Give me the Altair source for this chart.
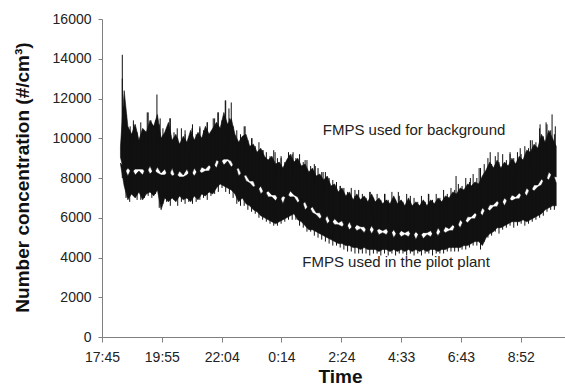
import altair as alt
import pandas as pd

# sampling grid (minutes after 17:45)
T0 = 40
STEP = 8

# FMPS used for background (upper band): high / low envelope
bg_hi = [9600, 12400, 10600, 10200, 10700, 9900, 10500, 10300, 10900, 10600,
         11200, 10000, 10300, 10800, 9900, 10200, 9700, 10100, 9800, 10400,
         9900, 10300, 10000, 10600, 10200, 10500, 10800, 10500, 11300, 10700,
         11000, 10200, 9800, 10100, 10200, 9600, 9700, 9300, 9500, 9100,
         8900, 9100, 8700, 8800, 8500, 8900, 9200, 8800, 9000, 8600,
         8700, 8300, 8500, 8100, 8200, 7900, 8100, 7600, 7700, 7300,
         7500, 7100, 7300, 6900, 7200, 6900, 7100, 6800, 7200, 6800,
         7000, 6700, 6900, 6700, 7100, 6700, 6900, 6600, 7000, 6600,
         6800, 6600, 6900, 6600, 6900, 6700, 7000, 6800, 7100, 7000,
         7300, 7200, 7500, 7400, 7700, 7600, 7800, 7700, 8100, 8400,
         8800, 8500, 8900, 8500, 8800, 8600, 9000, 8700, 9100, 8900,
         9400, 9300, 9700, 9500, 10200, 9800, 10400, 10000, 9600]
bg_lo = [9050, 8250, 8500, 8300, 8450, 8450, 8450, 8250, 8600, 8200,
         8550, 8250, 8450, 8050, 8500, 8000, 8350, 8150, 8450, 8050,
         8500, 8200, 8550, 8450, 8650, 8450, 8900, 8800, 8950, 8950,
         8850, 8450, 8500, 8100, 8150, 7850, 7850, 7350, 7600, 7200,
         7350, 7150, 7150, 6850, 7100, 7000, 7350, 7150, 7050, 6650,
         6800, 6400, 6550, 6250, 6250, 5850, 6100, 5700, 5950, 5750,
         5850, 5450, 5800, 5400, 5650, 5550, 5550, 5250, 5600, 5300,
         5450, 5350, 5450, 5150, 5400, 5100, 5350, 5250, 5350, 5050,
         5300, 5100, 5250, 5250, 5350, 5050, 5500, 5200, 5550, 5450,
         5650, 5450, 5900, 5700, 6050, 6050, 6250, 6050, 6500, 6300,
         6650, 6650, 6850, 6650, 7000, 6800, 7150, 7050, 7250, 7050,
         7500, 7300, 7650, 7650, 7950, 7750, 8300, 8100, 8050]

# FMPS used in the pilot plant (lower band): high / low envelope
pl_hi = [8750, 8550, 8100, 8500, 8150, 8350, 8150, 8550, 8200, 8400,
         8250, 8150, 8150, 8350, 8100, 8200, 8050, 8050, 8150, 8350,
         8100, 8400, 8250, 8350, 8350, 8750, 8500, 9000, 8650, 8850,
         8550, 8750, 8100, 8300, 7850, 7750, 7550, 7650, 7200, 7400,
         7050, 7050, 6850, 7150, 6700, 7200, 7050, 7050, 6750, 6950,
         6400, 6600, 6250, 6150, 5950, 6150, 5700, 5900, 5650, 5650,
         5550, 5750, 5400, 5600, 5350, 5450, 5250, 5550, 5200, 5500,
         5150, 5250, 5150, 5450, 5000, 5300, 5050, 5150, 5050, 5350,
         4900, 5300, 4950, 5150, 5050, 5350, 5100, 5400, 5250, 5350,
         5350, 5750, 5500, 5900, 5750, 5950, 5950, 6350, 6100, 6500,
         6350, 6550, 6550, 6950, 6600, 7000, 6850, 6950, 6950, 7350,
         7100, 7500, 7350, 7550, 7650, 8050, 7900, 8300, 7750]
pl_lo = [8700, 7600, 6900, 7200, 7000, 7300, 6900, 7200, 7300, 7100,
         7400, 6400, 7000, 6800, 7000, 6800, 7100, 6900, 7000, 6800,
         7100, 6900, 7200, 7100, 7300, 7200, 7500, 7700, 7600, 7500,
         7400, 7200, 6800, 7000, 6700, 6600, 6400, 6300, 6100, 6000,
         5900, 5800, 5700, 5800, 5900, 6000, 6100, 6200, 5900, 5800,
         5600, 5400, 5400, 5300, 5200, 5100, 5000, 4900, 4800, 4700,
         4700, 4600, 4600, 4500, 4500, 4400, 4500, 4400, 4400, 4400,
         4300, 4400, 4400, 4300, 4400, 4300, 4400, 4300, 4400, 4300,
         4400, 4300, 4400, 4300, 4400, 4400, 4300, 4400, 4400, 4500,
         4500, 4500, 4500, 4600, 4600, 4700, 4800, 4800, 4600, 5000,
         5200, 5300, 5500, 5500, 5600, 5700, 5800, 5800, 5800, 5900,
         5800, 5900, 6000, 6100, 6200, 6400, 6500, 6600, 6600]

# thin spikes between the samples: tops of the background trace, bottoms of the pilot trace
bg_peak = [13000, 11200, 10400, 10900, 10300, 10800, 10200, 11300, 10500, 10900,
           10700, 10500, 10100, 11000, 10300, 10000, 10500, 10200, 10000, 10700,
           10200, 10500, 10400, 10800, 10300, 11000, 11300, 10900, 11900, 11000,
           10600, 10400, 10200, 10600, 9900, 10000, 9600, 9800, 9400, 9300,
           9100, 9400, 9000, 9100, 8800, 9300, 9200, 9000, 9200, 8800,
           8900, 8600, 8700, 8500, 8300, 8300, 8000, 7900, 7800, 7600,
           7500, 7300, 7500, 7100, 7400, 7200, 7000, 7300, 7000, 7200,
           6900, 7200, 6900, 7300, 6900, 7100, 6800, 7200, 6800, 7000,
           6800, 7100, 6800, 7200, 6900, 7200, 7000, 7400, 7200, 7500,
           7400, 7700, 7600, 8000, 7800, 8200, 8000, 8500, 8700, 9000,
           8700, 9100, 8800, 9200, 8900, 9200, 9000, 9300, 9200, 9600,
           9500, 9900, 9800, 10500, 10100, 10700, 10400, 10200]
pl_dip = [8000, 7000, 6800, 7100, 6900, 6900, 7000, 7100, 7000, 7200,
          6500, 6700, 6800, 6600, 6900, 6600, 6800, 6700, 6800, 6700,
          6800, 6900, 7000, 6900, 7100, 7200, 7300, 7500, 7300, 7200,
          7000, 6700, 6600, 6600, 6400, 6300, 6200, 6000, 5900, 5800,
          5700, 5600, 5600, 5700, 5800, 5900, 5900, 5900, 5600, 5500,
          5300, 5300, 5100, 5000, 4900, 4800, 4700, 4600, 4600, 4500,
          4400, 4300, 4300, 4200, 4200, 4200, 4200, 4100, 4200, 4200,
          4100, 4200, 4100, 4200, 4100, 4200, 4200, 4100, 4200, 4100,
          4200, 4100, 4200, 4200, 4100, 4200, 4200, 4200, 4300, 4300,
          4300, 4300, 4400, 4400, 4500, 4600, 4600, 4400, 4800, 5000,
          5100, 5300, 5200, 5400, 5500, 5600, 5500, 5600, 5700, 5600,
          5700, 5800, 5900, 6000, 6100, 6300, 6400, 6400]

# the tallest individual spikes of the background trace (minutes after 17:45)
bg_spike_t = [44, 61, 69, 98, 106, 119, 126, 147, 163, 180, 195, 212, 228, 241, 251,
              267, 275, 280, 310, 325, 349, 375, 388, 414, 440, 462, 479, 516, 548, 581,
              613, 642, 668, 707, 767, 798, 817, 841, 858, 884, 906, 928, 949, 962, 975, 982]
bg_spike_base = [10000, 9800, 9800, 9800, 9800, 9800, 9600, 9600, 9600, 9600, 9700, 9800, 9900, 10000, 10100,
                 10200, 10100, 10000, 9300, 9000, 8500, 8000, 8000, 8200, 7900, 7500, 7300, 6800, 6500, 6400,
                 6300, 6300, 6200, 6300, 7000, 7200, 7400, 8000, 8200, 8300, 8400, 8700, 9000, 9300, 9500, 9000]
bg_spike_top = [14200, 10600, 10700, 11300, 10900, 12200, 11000, 11000, 10500, 10400, 10500, 10600, 10800, 11000, 11300,
                11900, 11500, 11800, 10600, 10000, 9400, 9300, 9000, 9300, 8900, 8600, 8300, 7600, 7400, 7300,
                7200, 7300, 7100, 7200, 8100, 8000, 8500, 9300, 9300, 9300, 9500, 9900, 10700, 10800, 11200, 10600]

# axis ticks
tick_pos = [0, 129.6, 259.2, 388.8, 518.4, 648.0, 777.6, 907.2]
tick_labels = ["17:45", "19:55", "22:04", "0:14", "2:24", "4:33", "6:43", "8:52"]
y_ticks = [0, 2000, 4000, 6000, 8000, 10000, 12000, 14000, 16000]

annot_text = ["FMPS used for background", "FMPS used in the pilot plant"]
annot_t = [676, 637]
annot_v = [10410, 3760]

rows = []
for name, hi, lo in [("background", bg_hi, bg_lo), ("pilot", pl_hi, pl_lo)]:
    for i in range(len(hi)):
        rows.append({"series": name, "t": T0 + STEP * i, "lo": lo[i], "hi": hi[i]})
bands = pd.DataFrame(rows)

sp_t, sp_a, sp_b = [], [], []
for i in range(len(bg_peak)):
    tm = T0 + STEP * i + STEP / 2
    sp_t.append(tm); sp_a.append(max(bg_lo[i], bg_lo[i + 1])); sp_b.append(bg_peak[i])
    sp_t.append(tm); sp_a.append(min(pl_hi[i], pl_hi[i + 1])); sp_b.append(pl_dip[i])
sp_t += bg_spike_t
sp_a += bg_spike_base
sp_b += bg_spike_top
spikes = pd.DataFrame({"t": sp_t, "a": sp_a, "b": sp_b})
annots = pd.DataFrame({"text": annot_text, "t": annot_t, "v": annot_v})

FONT = "Liberation Sans"
label_expr = "[" + ",".join("'%s'" % s for s in tick_labels) + "][round(datum.value / 129.6)]"

xscale = alt.Scale(domain=[0, 1003], nice=False, zero=False)
yscale = alt.Scale(domain=[0, 16000], nice=False)

xaxis = alt.Axis(values=tick_pos, labelExpr=label_expr, title="Time", grid=False,
                 titleFontSize=19, titleFontWeight="bold", titleFont=FONT, titleColor="#111",
                 titleX=238, titleY=45, titleBaseline="alphabetic", titleAlign="center",
                 labelFontSize=14, labelFont=FONT, labelColor="#222", labelFlush=False,
                 labelBaseline="alphabetic", labelPadding=19, tickSize=5,
                 domainColor="#808080", tickColor="#808080", labelOverlap=False)
yaxis = alt.Axis(values=y_ticks, format="d", title="Number concentration (#/cm³)", grid=False,
                 titleFontSize=19, titleFontWeight="bold", titleFont=FONT, titleColor="#111",
                 titleX=-70, titleY=158, titleAlign="center",
                 labelFontSize=14, labelFont=FONT, labelColor="#222", labelPadding=7,
                 tickSize=4, domainColor="#808080", tickColor="#808080", labelOverlap=False)

band_layer = alt.Chart(bands).mark_area(color="#111111", stroke="#111111", strokeWidth=0.6).encode(
    x=alt.X("t:Q", scale=xscale, axis=xaxis),
    y=alt.Y("lo:Q", scale=yscale, axis=yaxis),
    y2="hi:Q",
    detail="series:N",
)

spike_layer = alt.Chart(spikes).mark_rule(color="#111111", strokeWidth=1).encode(
    x=alt.X("t:Q", scale=xscale, axis=xaxis),
    y=alt.Y("a:Q", scale=yscale, axis=yaxis),
    y2="b:Q",
)

text_layer = alt.Chart(annots).mark_text(font=FONT, fontSize=15, color="#222", align="center",
                                          baseline="middle").encode(
    x=alt.X("t:Q", scale=xscale, axis=xaxis),
    y=alt.Y("v:Q", scale=yscale, axis=yaxis),
    text="text:N",
)

chart = alt.layer(band_layer, spike_layer, text_layer).properties(
    width=463, height=318,
    autosize=alt.AutoSizeParams(type="none"),
    padding={"left": 102, "top": 19, "right": 0, "bottom": 48},
).configure_view(stroke=None)

chart.save("out.html", embed_options={"renderer": "svg", "actions": False})
